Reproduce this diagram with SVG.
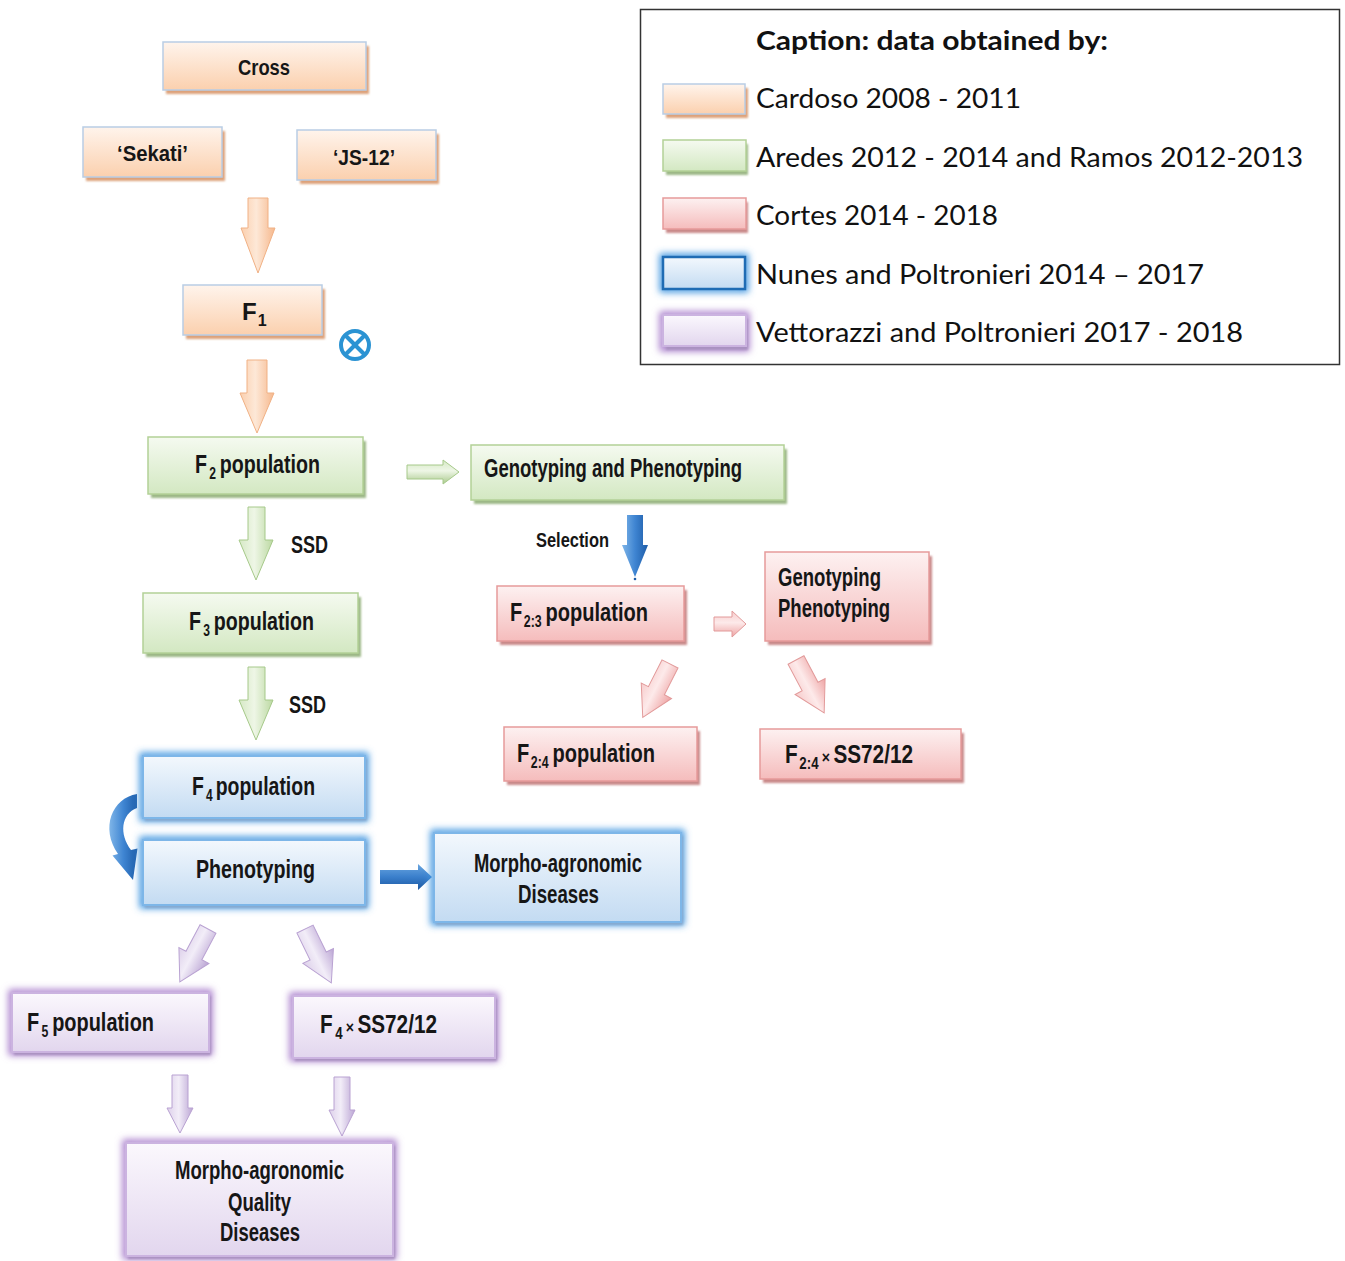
<svg xmlns="http://www.w3.org/2000/svg" width="1345" height="1261" viewBox="0 0 1345 1261">
<defs>
<style>
.t{font-family:"Liberation Sans",Arial,sans-serif;font-weight:bold;font-size:26px;fill:#161616}
.s22{font-size:22px}
.s24{font-size:24px}
.s25{font-size:25px}
.sm{font-size:20px}
.sub{font-size:16px}
.x{font-size:17px}
.lg{font-family:Lato,"Open Sans",sans-serif;font-size:26px;fill:#111}
.lgb{font-family:Lato,"Open Sans",sans-serif;font-size:27px;font-weight:bold;fill:#111}
.or{fill:url(#gOr);stroke:#b9cde5;stroke-width:1.5}
.orS{fill:#dda27a;filter:url(#soft)}
.gr{fill:url(#gGr);stroke:#b3d197;stroke-width:1.5}
.grS{fill:#9db887;filter:url(#soft)}
.pk{fill:url(#gPk);stroke:#e69a9a;stroke-width:1.5}
.pkS{fill:#c98a8a;filter:url(#soft)}
.bl{fill:url(#gBl);stroke:#7db6e8;stroke-width:2}
.blG{fill:none;stroke:#3f95e0;stroke-width:7;filter:url(#glow)}
.blS{fill:#86a9cf;filter:url(#soft)}
.pu{fill:url(#gPu);stroke:#cbb3e0;stroke-width:2}
.puG{fill:none;stroke:#a77ccb;stroke-width:7;filter:url(#glow)}
.puS{fill:#a991c0;filter:url(#soft)}
</style>
<linearGradient id="gOr" x1="0" y1="0" x2="0" y2="1"><stop offset="0" stop-color="#fff4ec"/><stop offset="1" stop-color="#fbd0ae"/></linearGradient>
<linearGradient id="gGr" x1="0" y1="0" x2="0" y2="1"><stop offset="0" stop-color="#f5faf0"/><stop offset="1" stop-color="#d3e8c2"/></linearGradient>
<linearGradient id="gPk" x1="0" y1="0" x2="0" y2="1"><stop offset="0" stop-color="#fdf1f1"/><stop offset="1" stop-color="#f5bcbc"/></linearGradient>
<linearGradient id="gBl" x1="0" y1="0" x2="0" y2="1"><stop offset="0" stop-color="#f3f8fd"/><stop offset="1" stop-color="#c3dbf2"/></linearGradient>
<linearGradient id="gPu" x1="0" y1="0" x2="0" y2="1"><stop offset="0" stop-color="#fbf8fd"/><stop offset="1" stop-color="#e2d6ee"/></linearGradient>
<linearGradient id="aOr" x1="0" y1="0" x2="1" y2="0"><stop offset="0" stop-color="#fbcfae"/><stop offset="0.45" stop-color="#fde8d7"/><stop offset="1" stop-color="#f6b88d"/></linearGradient>
<linearGradient id="aGr" x1="0" y1="0" x2="1" y2="0"><stop offset="0" stop-color="#d6e9c5"/><stop offset="0.45" stop-color="#eef6e6"/><stop offset="1" stop-color="#bcd9a2"/></linearGradient>
<linearGradient id="aGrH" x1="0" y1="0" x2="0" y2="1"><stop offset="0" stop-color="#d6e9c5"/><stop offset="0.45" stop-color="#eef6e6"/><stop offset="1" stop-color="#a9c98c"/></linearGradient>
<linearGradient id="aPk" x1="0" y1="0" x2="1" y2="0"><stop offset="0" stop-color="#f7cccc"/><stop offset="0.45" stop-color="#fdeaea"/><stop offset="1" stop-color="#eea4a4"/></linearGradient>
<linearGradient id="aPkH" x1="0" y1="0" x2="0" y2="1"><stop offset="0" stop-color="#f7cccc"/><stop offset="0.45" stop-color="#fdeaea"/><stop offset="1" stop-color="#eea4a4"/></linearGradient>
<linearGradient id="aPu" x1="0" y1="0" x2="1" y2="0"><stop offset="0" stop-color="#ddd0ea"/><stop offset="0.45" stop-color="#f2edf8"/><stop offset="1" stop-color="#bba5d4"/></linearGradient>
<linearGradient id="aBl" x1="0" y1="0" x2="1" y2="0"><stop offset="0" stop-color="#7fb5e8"/><stop offset="0.5" stop-color="#3f85d2"/><stop offset="1" stop-color="#1d5ca8"/></linearGradient>
<linearGradient id="aBlH" x1="0" y1="0" x2="0" y2="1"><stop offset="0" stop-color="#6aa6e0"/><stop offset="0.5" stop-color="#3a7fcc"/><stop offset="1" stop-color="#1b57a0"/></linearGradient>
<filter id="glow" x="-20%" y="-40%" width="140%" height="180%"><feGaussianBlur stdDeviation="3.5"/></filter>
<filter id="soft" x="-5%" y="-10%" width="110%" height="120%"><feGaussianBlur stdDeviation="1"/></filter>
<path id="diag" d="M-9,0 L9,0 L9,30 L17,30 L0,60 L-17,30 L-9,30 Z"/>
</defs>
<rect width="1345" height="1261" fill="#fff"/>

<!-- Legend -->
<g id="legend">
<rect x="640.5" y="9.5" width="699" height="355" fill="#fff" stroke="#333" stroke-width="1.5"/>
<text class="lgb" x="756" y="50" textLength="352" lengthAdjust="spacingAndGlyphs">Caption: data obtained by:</text>
<rect class="orS" x="666" y="88" width="82" height="30"/>
<rect class="or" x="663" y="84" width="82" height="30"/>
<text class="lg" x="756" y="108" textLength="265" lengthAdjust="spacingAndGlyphs">Cardoso 2008 - 2011</text>
<rect class="grS" x="666" y="144" width="82" height="31"/>
<rect class="gr" x="663" y="140" width="83" height="31"/>
<text class="lg" x="756" y="167" textLength="547" lengthAdjust="spacingAndGlyphs">Aredes 2012 - 2014 and Ramos 2012-2013</text>
<rect class="pkS" x="666" y="202" width="82" height="31"/>
<rect class="pk" x="663" y="198" width="83" height="31"/>
<text class="lg" x="756" y="225" textLength="242" lengthAdjust="spacingAndGlyphs">Cortes 2014 - 2018</text>
<rect class="blG" x="663" y="257" width="82" height="32"/>
<rect x="663" y="257" width="82" height="32" fill="url(#gBl)" stroke="#1f6cb4" stroke-width="2.5"/>
<text class="lg" x="756" y="284" textLength="448" lengthAdjust="spacingAndGlyphs">Nunes and Poltronieri 2014 – 2017</text>
<rect class="puG" x="663" y="315" width="83" height="33"/>
<rect class="puS" x="666" y="319" width="82" height="31"/>
<rect class="pu" x="663" y="315" width="83" height="31"/>
<text class="lg" x="756" y="342" textLength="487" lengthAdjust="spacingAndGlyphs">Vettorazzi and Poltronieri 2017 - 2018</text>
</g>

<!-- Connectors -->
<g id="connectors">
<polygon points="248,198 268,198 268,228 275,228 258,273 241,228 248,228" fill="url(#aOr)" stroke="#f0b185" stroke-width="1"/>
<polygon points="247,360 267,360 267,393 274,393 257,433 240,393 247,393" fill="url(#aOr)" stroke="#f0b185" stroke-width="1"/>
<polygon points="407,465 443,465 443,460 459,472 443,484 443,479 407,479" fill="url(#aGrH)" stroke="#a6c98a" stroke-width="1"/>
<polygon points="248,507 265,507 265,540 273,540 256,580 239,540 248,540" fill="url(#aGr)" stroke="#a6c98a" stroke-width="1"/>
<polygon points="248,667 265,667 265,700 273,700 256,740 239,700 248,700" fill="url(#aGr)" stroke="#a6c98a" stroke-width="1"/>
<polygon points="627,515 643,515 643,545 648,545 635,577 622,545 627,545" fill="url(#aBl)"/>
<circle cx="635" cy="579" r="1.3" fill="#1d5ca8"/>
<polygon points="714,617 732,617 732,611 746,624 732,637 732,631 714,631" fill="url(#aPkH)" stroke="#e29a9a" stroke-width="1"/>
<use href="#diag" transform="translate(670,664) rotate(27)" fill="url(#aPk)" stroke="#e29a9a" stroke-width="1"/>
<use href="#diag" transform="translate(796,660) rotate(-28)" fill="url(#aPk)" stroke="#e29a9a" stroke-width="1"/>
<path d="M137,794 C112,798 100,828 118,854 L112.5,855.6 L133,880 L137.5,848.4 L131,850 C119,834 121,814 137,808 Z" fill="url(#aBl)"/>
<polygon points="380,870 418,870 418,864 432,877 418,890 418,884 380,884" fill="url(#aBlH)"/>
<use href="#diag" transform="translate(208,929) rotate(28)" fill="url(#aPu)" stroke="#b9a2d2" stroke-width="1"/>
<use href="#diag" transform="translate(305,929) rotate(-26)" fill="url(#aPu)" stroke="#b9a2d2" stroke-width="1"/>
<polygon points="172,1075 188,1075 188,1108 193,1108 180,1133 167,1108 172,1108" fill="url(#aPu)" stroke="#b9a2d2" stroke-width="1"/>
<polygon points="334,1077 350,1077 350,1110 355,1110 342,1136 329,1110 334,1110" fill="url(#aPu)" stroke="#b9a2d2" stroke-width="1"/>
<g id="selfing" fill="none" stroke="#2b93d3" stroke-width="4">
<circle cx="355" cy="345" r="14"/>
<line x1="345.5" y1="335.5" x2="364.5" y2="354.5"/>
<line x1="364.5" y1="335.5" x2="345.5" y2="354.5"/>
</g>
<text class="t s24" x="291" y="553" textLength="37" lengthAdjust="spacingAndGlyphs">SSD</text>
<text class="t s24" x="289" y="713" textLength="37" lengthAdjust="spacingAndGlyphs">SSD</text>
<text class="t sm" x="536" y="547" textLength="73" lengthAdjust="spacingAndGlyphs">Selection</text>
</g>

<!-- Nodes -->
<g id="n-cross">
<rect class="orS" x="166" y="46" width="203" height="48"/>
<rect class="or" x="163" y="42" width="203" height="48"/>
<text class="t s22" x="238" y="75" textLength="52" lengthAdjust="spacingAndGlyphs">Cross</text>
</g>
<g id="n-sekati">
<rect class="orS" x="86" y="131" width="139" height="50"/>
<rect class="or" x="83" y="127" width="139" height="50"/>
<text class="t s22" x="117" y="161" textLength="71" lengthAdjust="spacingAndGlyphs">‘Sekati’</text>
</g>
<g id="n-js12">
<rect class="orS" x="300" y="134" width="139" height="50"/>
<rect class="or" x="297" y="130" width="139" height="50"/>
<text class="t s22" x="333" y="165" textLength="62" lengthAdjust="spacingAndGlyphs">‘JS-12’</text>
</g>
<g id="n-f1">
<rect class="orS" x="186" y="289" width="139" height="50"/>
<rect class="or" x="183" y="285" width="139" height="50"/>
<text class="t s24" x="242" y="320">F<tspan class="sub" dx="1" dy="6">1</tspan></text>
</g>
<g id="n-f2">
<rect class="grS" x="151" y="441" width="215" height="57"/>
<rect class="gr" x="148" y="437" width="215" height="57"/>
<text class="t" x="195" y="473" textLength="125" lengthAdjust="spacingAndGlyphs">F<tspan class="sub" dx="3" dy="6">2</tspan><tspan dx="5" dy="-6">population</tspan></text>
</g>
<g id="n-genopheno">
<rect class="grS" x="474" y="449" width="313" height="55"/>
<rect class="gr" x="471" y="445" width="313" height="55"/>
<text class="t" x="484" y="477" textLength="258" lengthAdjust="spacingAndGlyphs">Genotyping and Phenotyping</text>
</g>
<g id="n-f3">
<rect class="grS" x="146" y="597" width="215" height="60"/>
<rect class="gr" x="143" y="593" width="215" height="60"/>
<text class="t" x="189" y="630" textLength="125" lengthAdjust="spacingAndGlyphs">F<tspan class="sub" dx="3" dy="6">3</tspan><tspan dx="5" dy="-6">population</tspan></text>
</g>
<g id="n-f23">
<rect class="pkS" x="500" y="590" width="187" height="55"/>
<rect class="pk" x="497" y="586" width="187" height="55"/>
<text class="t" x="510" y="621" textLength="138" lengthAdjust="spacingAndGlyphs">F<tspan class="sub" dx="2" dy="6">2:3</tspan><tspan dx="5" dy="-6">population</tspan></text>
</g>
<g id="n-genopheno2">
<rect class="pkS" x="768" y="556" width="164" height="89"/>
<rect class="pk" x="765" y="552" width="164" height="89"/>
<text class="t s25" x="778" y="586" textLength="103" lengthAdjust="spacingAndGlyphs">Genotyping</text>
<text class="t s25" x="778" y="617" textLength="112" lengthAdjust="spacingAndGlyphs">Phenotyping</text>
</g>
<g id="n-f24">
<rect class="pkS" x="507" y="731" width="193" height="54"/>
<rect class="pk" x="504" y="727" width="193" height="54"/>
<text class="t" x="517" y="762" textLength="138" lengthAdjust="spacingAndGlyphs">F<tspan class="sub" dx="2" dy="6">2:4</tspan><tspan dx="5" dy="-6">population</tspan></text>
</g>
<g id="n-f24x">
<rect class="pkS" x="763" y="733" width="201" height="50"/>
<rect class="pk" x="760" y="729" width="201" height="50"/>
<text class="t s25" x="785" y="763" textLength="128" lengthAdjust="spacingAndGlyphs">F<tspan class="sub" dx="2" dy="6">2:4</tspan><tspan class="x" dx="4" dy="-6">×</tspan><tspan dx="4">SS72/12</tspan></text>
</g>
<g id="n-f4">
<rect class="blG" x="143" y="756" width="222" height="62"/>
<rect class="blS" x="145" y="759" width="222" height="62"/>
<rect class="bl" x="143" y="756" width="222" height="62"/>
<text class="t" x="192" y="795" textLength="123" lengthAdjust="spacingAndGlyphs">F<tspan class="sub" dx="3" dy="6">4</tspan><tspan dx="4" dy="-6">population</tspan></text>
</g>
<g id="n-pheno">
<rect class="blG" x="143" y="840" width="222" height="65"/>
<rect class="blS" x="145" y="843" width="222" height="65"/>
<rect class="bl" x="143" y="840" width="222" height="65"/>
<text class="t" x="196" y="878" textLength="119" lengthAdjust="spacingAndGlyphs">Phenotyping</text>
</g>
<g id="n-morpho1">
<rect class="blG" x="434" y="833" width="247" height="89"/>
<rect class="blS" x="436" y="836" width="247" height="89"/>
<rect class="bl" x="434" y="833" width="247" height="89"/>
<text class="t s25" x="474" y="872" textLength="168" lengthAdjust="spacingAndGlyphs">Morpho-agronomic</text>
<text class="t s25" x="518" y="903" textLength="81" lengthAdjust="spacingAndGlyphs">Diseases</text>
</g>
<g id="n-f5">
<rect class="puG" x="12" y="993" width="197" height="59"/>
<rect class="puS" x="14" y="996" width="197" height="59"/>
<rect class="pu" x="12" y="993" width="197" height="59"/>
<text class="t" x="27" y="1031" textLength="127" lengthAdjust="spacingAndGlyphs">F<tspan class="sub" dx="3" dy="6">5</tspan><tspan dx="5" dy="-6">population</tspan></text>
</g>
<g id="n-f4x">
<rect class="puG" x="293" y="996" width="202" height="62"/>
<rect class="puS" x="295" y="999" width="202" height="62"/>
<rect class="pu" x="293" y="996" width="202" height="62"/>
<text class="t s25" x="320" y="1033" textLength="117" lengthAdjust="spacingAndGlyphs">F<tspan class="sub" dx="3" dy="6">4</tspan><tspan class="x" dx="4" dy="-6">×</tspan><tspan dx="4">SS72/12</tspan></text>
</g>
<g id="n-morpho2">
<rect class="puG" x="126" y="1143" width="267" height="113"/>
<rect class="puS" x="128" y="1146" width="267" height="113"/>
<rect class="pu" x="126" y="1143" width="267" height="113"/>
<text class="t s25" x="175" y="1179" textLength="169" lengthAdjust="spacingAndGlyphs">Morpho-agronomic</text>
<text class="t s25" x="228" y="1211" textLength="63" lengthAdjust="spacingAndGlyphs">Quality</text>
<text class="t s25" x="220" y="1241" textLength="80" lengthAdjust="spacingAndGlyphs">Diseases</text>
</g>
</svg>
